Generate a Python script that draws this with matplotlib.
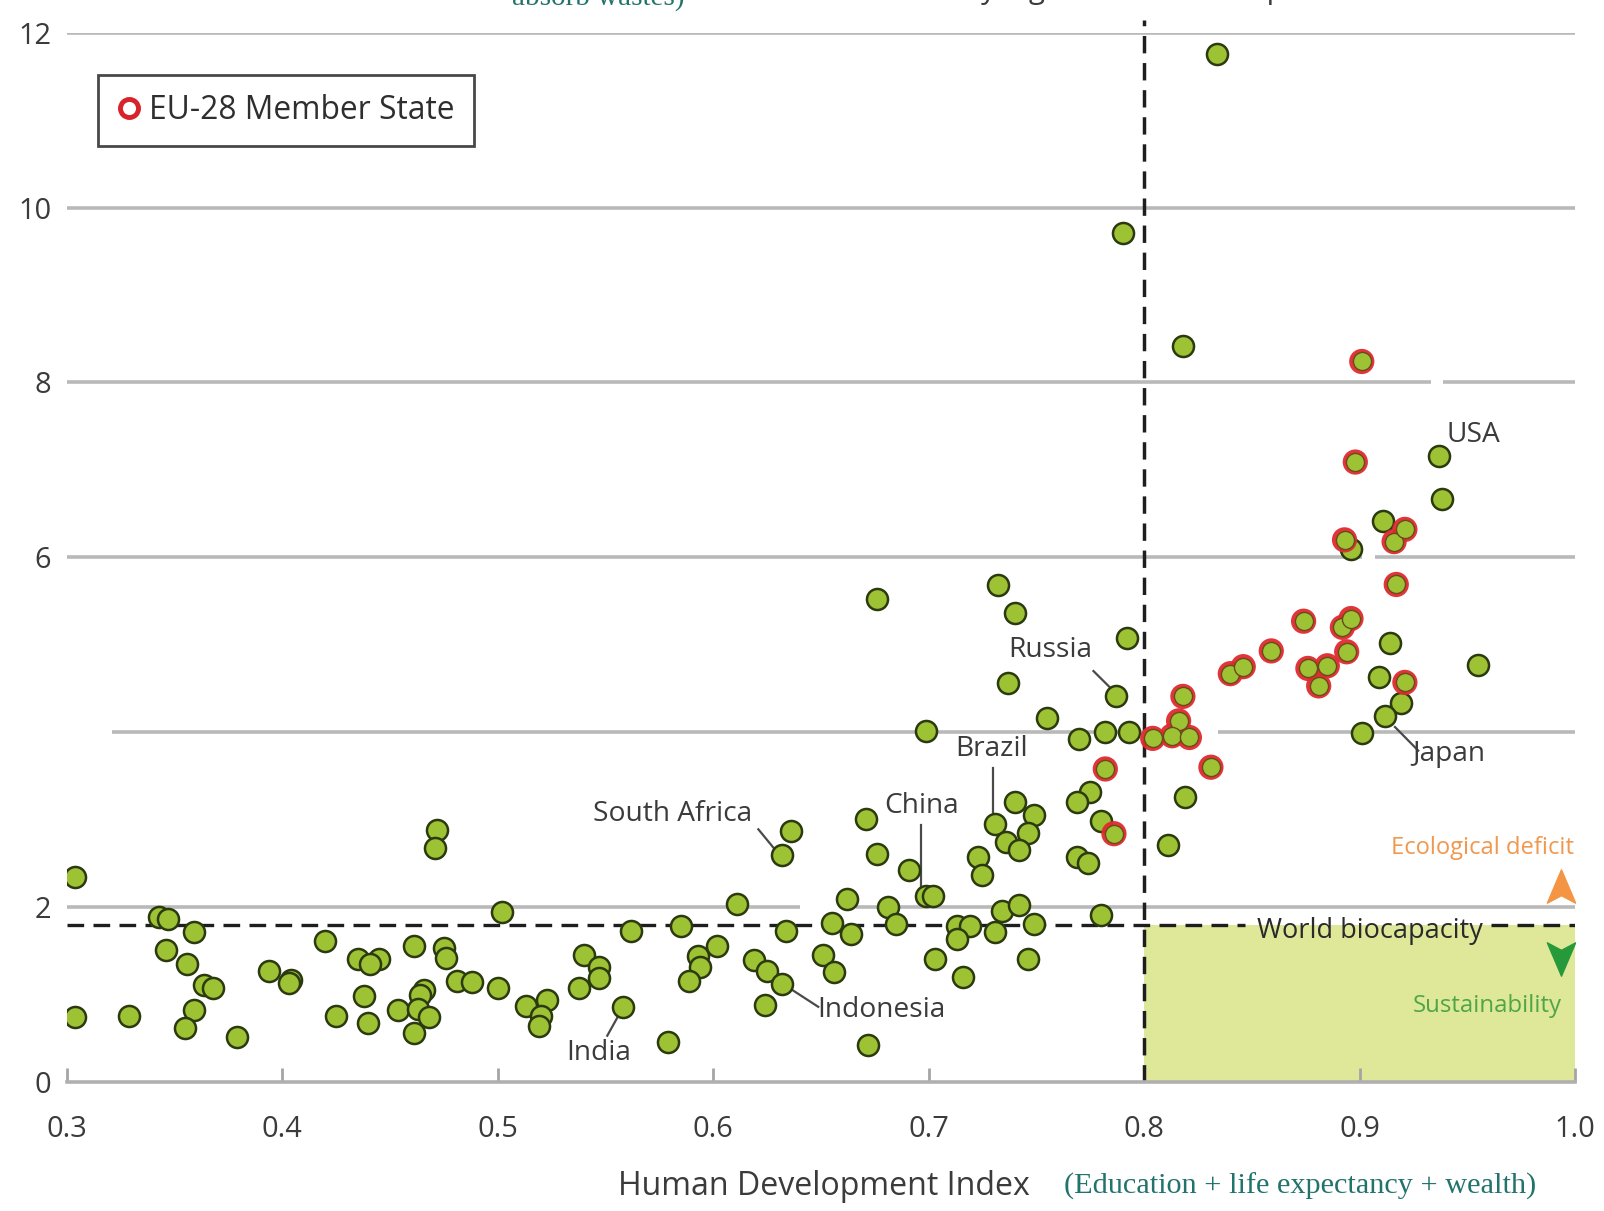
import matplotlib
matplotlib.use("Agg")
import matplotlib.pyplot as plt
from matplotlib import font_manager as fm
from matplotlib.lines import Line2D
from matplotlib.path import Path

# ---------------- data ----------------
other_hdi = [0.304, 0.304, 0.329, 0.343, 0.347, 0.359, 0.346, 0.356, 0.364, 0.368,
             0.359, 0.355, 0.379, 0.394, 0.404, 0.403, 0.420, 0.435, 0.445, 0.441,
             0.438, 0.425, 0.440, 0.454, 0.461, 0.475, 0.476, 0.466, 0.464, 0.463,
             0.468, 0.461, 0.472, 0.471, 0.481, 0.488, 0.500, 0.502, 0.562, 0.585,
             0.540, 0.547, 0.547, 0.538, 0.523, 0.513, 0.520, 0.519, 0.558, 0.579,
             0.593, 0.594, 0.589, 0.602, 0.611, 0.636, 0.632, 0.634, 0.619, 0.625,
             0.632, 0.624, 0.671, 0.676, 0.691, 0.662, 0.681, 0.685, 0.655, 0.664,
             0.651, 0.656, 0.672, 0.676, 0.699, 0.702, 0.699, 0.732, 0.740, 0.737,
             0.755, 0.792, 0.787, 0.770, 0.782, 0.793, 0.775, 0.769, 0.780, 0.769,
             0.774, 0.780, 0.740, 0.749, 0.731, 0.746, 0.736, 0.742, 0.723, 0.725,
             0.734, 0.742, 0.749, 0.713, 0.719, 0.713, 0.731, 0.703, 0.746, 0.716,
             0.818, 0.834, 0.790, 0.819, 0.811, 0.896, 0.937, 0.938, 0.911, 0.914,
             0.909, 0.919, 0.912, 0.901, 0.955]
other_footprint = [2.35, 0.74, 0.75, 1.89, 1.86, 1.71, 1.51, 1.35, 1.11, 1.08,
                   0.82, 0.62, 0.51, 1.27, 1.17, 1.13, 1.61, 1.41, 1.41, 1.35,
                   0.98, 0.75, 0.68, 0.82, 1.55, 1.53, 1.42, 1.05, 1.00, 0.84,
                   0.74, 0.56, 2.88, 2.68, 1.16, 1.14, 1.07, 1.94, 1.73, 1.78,
                   1.45, 1.32, 1.19, 1.07, 0.94, 0.87, 0.75, 0.64, 0.86, 0.46,
                   1.44, 1.32, 1.16, 1.56, 2.04, 2.87, 2.60, 1.73, 1.39, 1.27,
                   1.12, 0.88, 3.01, 2.61, 2.42, 2.09, 2.00, 1.81, 1.82, 1.69,
                   1.45, 1.26, 0.42, 5.52, 2.13, 2.13, 4.01, 5.68, 5.36, 4.56,
                   4.16, 5.08, 4.41, 3.92, 4.00, 4.00, 3.32, 3.20, 2.99, 2.57,
                   2.51, 1.91, 3.20, 3.05, 2.95, 2.85, 2.75, 2.65, 2.57, 2.37,
                   1.96, 2.02, 1.81, 1.78, 1.79, 1.64, 1.72, 1.41, 1.41, 1.20,
                   8.42, 11.76, 9.71, 3.26, 2.71, 6.09, 7.16, 6.67, 6.42, 5.02,
                   4.63, 4.33, 4.19, 3.99, 4.77]

eu_hdi = [0.782, 0.786, 0.818, 0.816, 0.804, 0.813, 0.821, 0.831, 0.840, 0.846,
          0.859, 0.874, 0.876, 0.881, 0.885, 0.892, 0.896, 0.894, 0.893, 0.898,
          0.901, 0.916, 0.921, 0.917, 0.921]
eu_footprint = [3.58, 2.84, 4.41, 4.13, 3.93, 3.96, 3.94, 3.60, 4.67, 4.75,
                4.93, 5.27, 4.73, 4.53, 4.76, 5.20, 5.30, 4.92, 6.20, 7.09,
                8.24, 6.18, 6.32, 5.69, 4.57]

world_biocapacity = 1.8
very_high_hdi = 0.8

x_ticks = [0.3, 0.4, 0.5, 0.6, 0.7, 0.8, 0.9, 1.0]
x_tick_labels = ["0.3", "0.4", "0.5", "0.6", "0.7", "0.8", "0.9", "1.0"]
y_ticks = [0, 2, 6, 8, 10, 12]
y_tick_labels = ["0", "2", "6", "8", "10", "12"]
grid_levels = [2, 4, 6, 8, 10, 12]

country_names = ["USA", "Russia", "Brazil", "China", "South Africa", "Indonesia", "India", "Japan"]

# ---------------- fonts ----------------
def pick(names, default):
    for n in names:
        try:
            fm.findfont(fm.FontProperties(family=n), fallback_to_default=False)
            return n
        except Exception:
            pass
    return default

SANS = pick(["Liberation Sans Narrow", "Open Sans", "Liberation Sans"], "DejaVu Sans")
SERIF = pick(["Liberation Serif", "DejaVu Serif"], "DejaVu Serif")
k = 1.0 if SANS == "Liberation Sans Narrow" else 0.88
plt.rcParams["font.family"] = [SANS, "DejaVu Sans"]

# ---------------- colors ----------------
GREEN_FILL = "#9dc233"
DARK_EDGE = "#2c3a10"
EU_RED = "#e02a2e"
GRID = "#b9b9b9"
TXT = "#3b3b3b"
TEAL = "#22736c"

fig = plt.figure(figsize=(16.04, 12.11), dpi=100)
ax = fig.add_axes([0.0415, 0.1065, 0.9405, 0.8665])
ax.set_xlim(0.3, 1.0)
ax.set_ylim(0, 12)

# sustainability quadrant
ax.fill_between([very_high_hdi, 1.0], 0, world_biocapacity, color="#dfe899", lw=0, zorder=1)

# horizontal grid lines (with the small breaks of the original)
gaps = {2: [(0.6405, 0.6665)], 4: [(0.80, 0.8344)], 6: [(0.9009, 0.907)], 8: [(0.9333, 0.9385)]}
starts = {4: 0.321}
for g in grid_levels:
    x0 = starts.get(g, 0.3)
    segs = []
    cur = x0
    for a, b in gaps.get(g, []):
        segs.append((cur, a))
        cur = b
    segs.append((cur, 1.0))
    for a, b in segs:
        ax.plot([a, b], [g, g], color=GRID, lw=2.6, solid_capstyle="butt", zorder=1.5)

# dashed reference lines
dash = (0, (5.0, 2.8))
ax.plot([0.3, 0.8469], [world_biocapacity] * 2, color="#1e1e1e", lw=2.4, ls=dash, zorder=2)
ax.plot([0.961, 1.0], [world_biocapacity] * 2, color="#1e1e1e", lw=2.4, ls=dash, zorder=2)
ax.plot([very_high_hdi] * 2, [0, 12.15], color="#1e1e1e", lw=2.5, ls=dash, zorder=2, clip_on=False)

# points
ax.scatter(other_hdi, other_footprint, s=230, c=GREEN_FILL, edgecolors=DARK_EDGE, linewidths=1.8, zorder=3)
ax.scatter(eu_hdi, eu_footprint, s=330, c=EU_RED, edgecolors="none", alpha=0.95, zorder=3.1)
ax.scatter(eu_hdi, eu_footprint, s=170, c=GREEN_FILL, edgecolors="#6a4a1c", linewidths=1.0, zorder=3.2)

# country labels with leader lines
lab_fs = 23 * k
label_specs = [
    # name, text xy, ha, leader start, leader end
    ("USA", (0.9405, 7.40), "left", None, None),
    ("Russia", (0.7563, 4.94), "center", (0.7765, 4.70), (0.7859, 4.47)),
    ("Brazil", (0.7291, 3.81), "center", (0.7300, 3.59), (0.7300, 3.03)),
    ("China", (0.6967, 3.16), "center", (0.6967, 2.94), (0.6967, 2.21)),
    ("South Africa", (0.5813, 3.06), "center", (0.6210, 2.89), (0.6290, 2.65)),
    ("Indonesia", (0.6781, 0.82), "center", (0.6363, 1.06), (0.6488, 0.86)),
    ("India", (0.5467, 0.33), "center", (0.5509, 0.53), (0.5570, 0.80)),
    ("Japan", (0.9413, 3.75), "center", (0.9164, 4.06), (0.9272, 3.79)),
]
for name in country_names:
    spec = [s for s in label_specs if s[0] == name][0]
    _, (tx, ty), ha, p0, p1 = spec
    ax.text(tx, ty, name, fontsize=lab_fs, color=TXT, ha=ha, va="center", zorder=4)
    if p0 is not None:
        ax.plot([p0[0], p1[0]], [p0[1], p1[1]], color="#4a4a4a", lw=1.6, zorder=2.5)

ax.text(0.905, 1.73, "World biocapacity", fontsize=22.2 * k, color="#2a2a2a",
        ha="center", va="center", zorder=4)
ax.text(0.9995, 2.68, "Ecological deficit", fontsize=19.4 * k, color="#f0984e",
        ha="right", va="center", zorder=4)
ax.text(0.9939, 0.865, "Sustainability", fontsize=19.6 * k, color="#4fa548",
        ha="right", va="center", zorder=4)

arrow_up = Path([(0, 1), (0.85, -1), (0, -0.55), (-0.85, -1), (0, 1)],
                [Path.MOVETO, Path.LINETO, Path.LINETO, Path.LINETO, Path.CLOSEPOLY])
arrow_dn = Path([(0, -1), (0.85, 1), (0, 0.55), (-0.85, 1), (0, -1)],
                [Path.MOVETO, Path.LINETO, Path.LINETO, Path.LINETO, Path.CLOSEPOLY])
ax.plot([0.9935], [2.24], marker=arrow_up, ms=24, color="#f39543", ls="", zorder=4)
ax.plot([0.9935], [1.41], marker=arrow_dn, ms=24, color="#269a3a", ls="", zorder=4)

# axes styling
for side in ["left", "right", "top"]:
    ax.spines[side].set_visible(False)
ax.spines["bottom"].set_color("#b0b0b0")
ax.spines["bottom"].set_linewidth(2.6)
ax.spines["bottom"].set_zorder(2.4)
ax.set_xticks(x_ticks)
ax.set_xticklabels(x_tick_labels)
ax.set_yticks(y_ticks)
ax.set_yticklabels(y_tick_labels)
tick_k = 1.0 if SANS == "Liberation Sans Narrow" else 0.91
ax.tick_params(axis="x", direction="in", length=10, width=2.0, color="#a5a5a5",
               labelsize=23 * tick_k, labelcolor=TXT, pad=24)
ax.tick_params(axis="y", length=0, labelsize=23 * tick_k, labelcolor=TXT, pad=11)
for lbl in ax.get_yticklabels():
    lbl.set_verticalalignment("center_baseline")

# legend
handle = Line2D([], [], marker="o", ls="", mfc="white", mec="#d8232a", mew=3.5, ms=13)
leg = ax.legend([handle], ["EU-28 Member State"], loc="upper left",
                bbox_to_anchor=(0.021, 0.960), fontsize=26 * k, frameon=True,
                fancybox=False, borderpad=0.6, handletextpad=0.25, handlelength=0.75,
                borderaxespad=0)
leg.get_frame().set_edgecolor("#1a1a1a")
leg.get_frame().set_linewidth(2.0)
for t in leg.get_texts():
    t.set_color("#2e2e2e")

# axis title texts
fig.text(0.5134, 0.0206, "Human Development Index", fontsize=26.3 * k, color=TXT,
         ha="center", va="center")
fig.text(0.6633, 0.0206, "(Education + life expectancy + wealth)", fontsize=21.8,
         family=SERIF, color=TEAL, ha="left", va="center")

# texts cut by the top edge of the picture (as in the original crop)
fig.text(0.373, 0.996, "absorb wastes)", fontsize=21, family=SERIF, color=TEAL,
         ha="center", va="baseline")
fig.text(0.7145, 1.002, "Very high human development", fontsize=24 * k, color=TXT,
         ha="center", va="baseline")

fig.savefig("out.png", dpi=100, facecolor="white")
